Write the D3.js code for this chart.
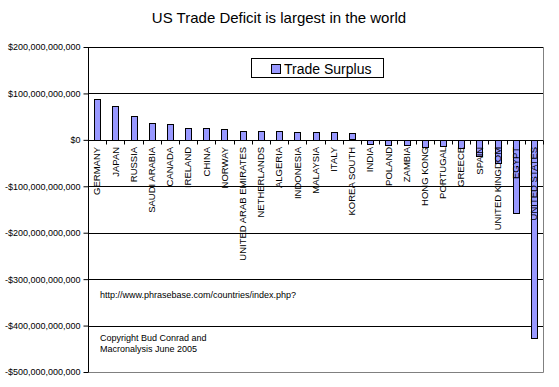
<!DOCTYPE html>
<html>
<head>
<meta charset="utf-8">
<script src="https://cdn.jsdelivr.net/npm/d3@7"></script>
<style>
  body { margin: 0; background: #fff; }
  text { font-family: "Liberation Sans", Arial, sans-serif; }
</style>
</head>
<body>
<div id="chart"></div>
<script>
// countries, left to right
var countries = ["GERMANY", "JAPAN", "RUSSIA", "SAUDI ARABIA", "CANADA", "IRELAND", "CHINA",
  "NORWAY", "UNITED ARAB EMIRATES", "NETHERLANDS", "ALGERIA", "INDONESIA", "MALAYSIA", "ITALY",
  "KOREA SOUTH", "INDIA", "POLAND", "ZAMBIA", "HONG KONG", "PORTUGAL", "GREECE", "SPAIN",
  "UNITED KINGDOM", "EGYPT", "UNITED STATES"];
// trade surplus, billions of dollars
var surplus = [88, 73, 52, 36, 34, 25, 25, 23.5, 19, 19, 19, 17, 17, 18, 14,
  -9, -11, -11, -14, -13, -18, -34, -50, -158, -426];
var yTicks = [200, 100, 0, -100, -200, -300, -400, -500];
var notes = ["http://www.phrasebase.com/countries/index.php?"];
var copyright = ["Copyright Bud Conrad and", "Macronalysis June 2005"];

var width = 559, height = 387;
// plot area edges
var pL = 88, pR = 543, pT = 47, pB = 372;

var svg = d3.select("#chart").append("svg")
  .attr("width", width)
  .attr("height", height);

var x = d3.scaleBand().domain(countries).range([pL, pR]);
var y = d3.scaleLinear().domain([-500, 200]).range([pB, pT]);

function money(v) {
  var s = "$" + d3.format(",")(Math.abs(v) * 1e9);
  return v < 0 ? "-" + s : s;
}

// title
svg.append("text")
  .attr("x", 279).attr("y", 23)
  .attr("text-anchor", "middle")
  .attr("font-size", "15px")
  .text("US Trade Deficit is largest in the world");

// gridlines
svg.append("g").selectAll("line")
  .data(yTicks.filter(function(d) { return d > -500; }))
  .enter().append("line")
  .attr("x1", pL).attr("x2", pR)
  .attr("y1", function(d) { return Math.round(y(d)) + 0.5; })
  .attr("y2", function(d) { return Math.round(y(d)) + 0.5; })
  .attr("stroke", "#000").attr("stroke-width", 1);

// plot border right/bottom
svg.append("path")
  .attr("d", "M" + (pR + 0.5) + "," + pT + "V" + (pB + 0.5) + "H" + pL)
  .attr("fill", "none").attr("stroke", "#808080");

// y axis
var yAxis = d3.axisLeft(y).tickValues(yTicks).tickSize(5).tickPadding(3).tickFormat(money);
var gy = svg.append("g").attr("transform", "translate(" + (pL + 0.5) + ",0)").call(yAxis);
gy.selectAll("text").attr("font-size", "9px").attr("font-family", "Liberation Sans, Arial, sans-serif").attr("fill", "#000");
gy.selectAll("line, path").attr("stroke", "#000");
gy.select(".domain").attr("d", "M0," + pT + "V" + pB);

// bars
var bw = 6;
svg.append("g").selectAll("rect")
  .data(countries)
  .enter().append("rect")
  .attr("x", function(d) { return Math.round(x(d) + x.bandwidth() / 2 - bw / 2) + 0.5; })
  .attr("width", bw)
  .attr("y", function(d, i) { return Math.round(y(Math.max(0, surplus[i]))) + 0.5; })
  .attr("height", function(d, i) { return Math.round(Math.abs(y(surplus[i]) - y(0))); })
  .attr("fill", "#9999ff")
  .attr("stroke", "#000")
  .attr("stroke-width", 1);

// x axis at zero with category ticks
var y0 = Math.round(y(0)) + 0.5;
var gx = svg.append("g");
gx.append("line")
  .attr("x1", pL).attr("x2", pR)
  .attr("y1", y0).attr("y2", y0)
  .attr("stroke", "#000");
gx.selectAll(".tk")
  .data(d3.range(countries.length + 1))
  .enter().append("line")
  .attr("class", "tk")
  .attr("x1", function(i) { return Math.round(pL + i * x.step()) + 0.5; })
  .attr("x2", function(i) { return Math.round(pL + i * x.step()) + 0.5; })
  .attr("y1", y0).attr("y2", y0 + 4)
  .attr("stroke", "#000");

gx.selectAll(".lbl")
  .data(countries)
  .enter().append("text")
  .attr("class", "lbl")
  .attr("transform", function(d) {
    return "translate(" + (x(d) + x.bandwidth() / 2) + "," + (y(0) + 7) + ") rotate(-90)";
  })
  .attr("text-anchor", "end")
  .attr("dy", "0.35em")
  .attr("font-size", "9.5px")
  .text(function(d) { return d; });

// legend
var lg = svg.append("g");
lg.append("rect")
  .attr("x", 251.5).attr("y", 58.5).attr("width", 132).attr("height", 19)
  .attr("fill", "#fff").attr("stroke", "#000");
lg.append("rect")
  .attr("x", 271.5).attr("y", 64.5).attr("width", 9).attr("height", 9)
  .attr("fill", "#9999ff").attr("stroke", "#000");
lg.append("text")
  .attr("x", 284).attr("y", 73.5)
  .attr("font-size", "14px")
  .text("Trade Surplus");

// annotations
svg.append("g").selectAll("text")
  .data(notes)
  .enter().append("text")
  .attr("x", 100).attr("y", 298)
  .attr("font-size", "9px")
  .text(function(d) { return d; });

svg.append("g").selectAll("text")
  .data(copyright)
  .enter().append("text")
  .attr("x", 100)
  .attr("y", function(d, i) { return 341 + i * 11; })
  .attr("font-size", "9px")
  .text(function(d) { return d; });
</script>
</body>
</html>
